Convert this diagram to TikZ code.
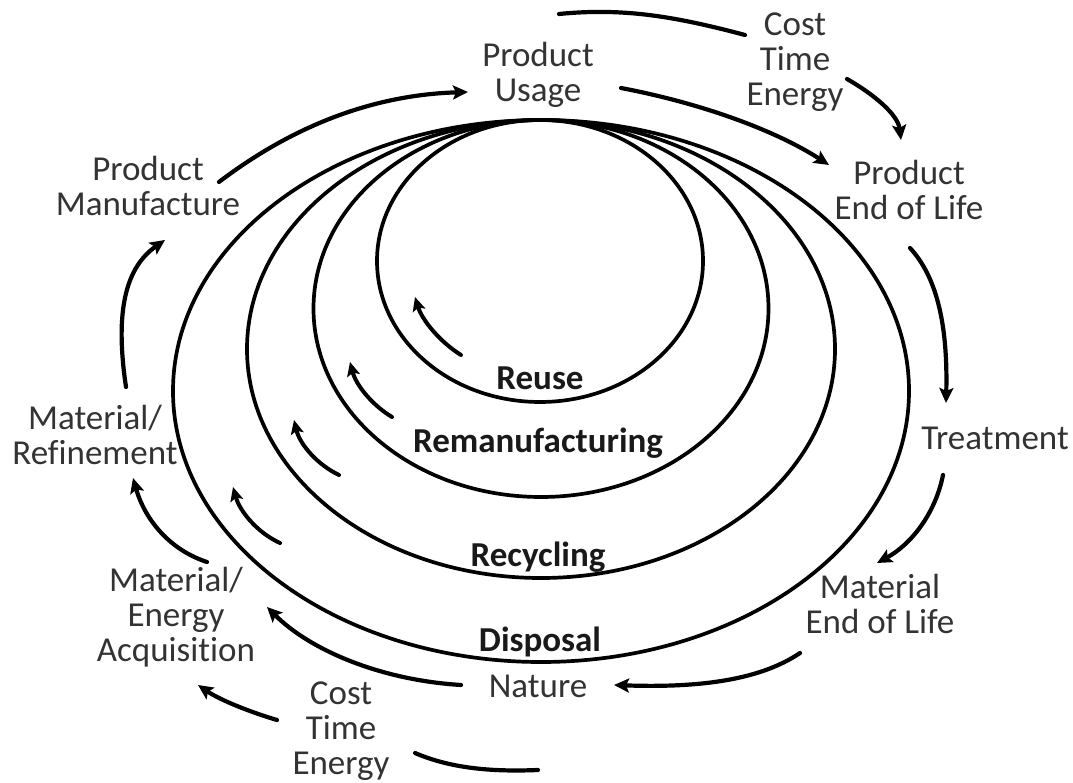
\documentclass[tikz,border=0pt]{standalone}
\usepackage{fontspec}
\setmainfont[Ligatures=NoCommon]{Carlito}
\usetikzlibrary{arrows.meta}
\begin{document}
\begin{tikzpicture}[x=1pt,y=-1pt,
  lbl/.style={align=center,font=\fontsize{35}{35}\selectfont,text=black!80,inner sep=0pt},
  blbl/.style={align=center,font=\fontsize{35}{35}\selectfont\bfseries,text=black!90,inner sep=0pt},
  ring/.style={line width=3.7pt,black},
  flow/.style={line width=4.2pt,black,line cap=round,-{Stealth[length=15pt,width=14pt,inset=3pt]}},
  plain/.style={line width=4.2pt,black,line cap=round},
  back/.style={line width=4pt,black,line cap=round,-{Stealth[length=14pt,width=13pt,inset=3pt]}}]
\useasboundingbox (0,0) rectangle (1073,783);
% rings
\draw[ring] (541,391) ellipse [x radius=368pt, y radius=271pt];
\draw[ring] (541,349) ellipse [x radius=294pt, y radius=229pt];
\draw[ring] (541,308.5) ellipse [x radius=227.5pt, y radius=188.5pt];
\draw[ring] (540,261) ellipse [x radius=163pt, y radius=141pt];
% labels
\node[lbl] (pu) at (538,74.5) {Product\\Usage};
\node[lbl] (cte1) at (795,62) {Cost\\Time\\Energy};
\node[lbl] (peol) at (909,189.5) {Product\\End of Life};
\node[lbl] (tr) at (995,438) {Treatment};
\node[lbl] (meol) at (880,603.5) {Material\\End of Life};
\node[lbl] (na) at (538,686) {Nature};
\node[lbl] (cte2) at (341,731) {Cost\\Time\\Energy};
\node[lbl] (mea) at (176,617) {Material/\\Energy\\Acquisition};
\node[lbl] (mr) at (95,434.5) {Material/\\Refinement};
\node[lbl] (pm) at (148,185.5) {Product\\Manufacture};
\node[blbl] (reuse) at (540,378) {Reuse};
\node[blbl] (reman) at (538,443) {Remanufacturing};
\node[blbl] (recyc) at (538,557) {Recycling};
\node[blbl] (disp) at (540,642) {Disposal};
% connector ends
\coordinate (a1s) at (219,182);  \coordinate (a1e) at (468,92);
\coordinate (a2s) at (621,88);   \coordinate (a2e) at (829,165);
\coordinate (t1s) at (559,14);   \coordinate (t1e) at (745,35);
\coordinate (a3s) at (847,79);   \coordinate (a3e) at (901,140);
\coordinate (a5s) at (910,248);  \coordinate (a5e) at (946,403);
\coordinate (a6s) at (943,475);  \coordinate (a6e) at (877,563);
\coordinate (a7s) at (800,653);  \coordinate (a7e) at (614,685);
\coordinate (t2s) at (415,753);  \coordinate (t2e) at (538,770);
\coordinate (a9s) at (461,685);  \coordinate (a9e) at (267,607);
\coordinate (a10s) at (277,720); \coordinate (a10e) at (198,685);
\coordinate (a11s) at (207,562); \coordinate (a11e) at (133,478);
\coordinate (a12s) at (126,387); \coordinate (a12e) at (165,240);
\coordinate (i1s) at (461,355);  \coordinate (i1e) at (415,297);
\coordinate (i2s) at (392,417);  \coordinate (i2e) at (350,362);
\coordinate (i3s) at (339,475);  \coordinate (i3e) at (294,420);
\coordinate (i4s) at (280,543);  \coordinate (i4e) at (233,487);
% outer flow
\draw[flow] (a1s) .. controls (290,128) and (370,95) .. (a1e);
\draw[flow] (a2s) .. controls (700,103) and (775,130) .. (a2e);
\draw[plain] (t1s) .. controls (620,8) and (670,15) .. (t1e);
\draw[flow] (a3s) .. controls (875,95) and (898,115) .. (a3e);
\draw[flow] (a5s) .. controls (935,275) and (948,320) .. (a5e);
\draw[flow] (a6s) .. controls (935,515) and (910,545) .. (a6e);
\draw[flow] (a7s) .. controls (760,680) and (700,688) .. (a7e);
\draw[plain] (t2s) .. controls (450,768) and (490,772) .. (t2e);
\draw[flow] (a9s) .. controls (380,680) and (310,650) .. (a9e);
\draw[flow] (a10s) .. controls (250,712) and (220,700) .. (a10e);
\draw[flow] (a11s) .. controls (170,550) and (145,520) .. (a11e);
\draw[flow] (a12s) .. controls (116,320) and (122,270) .. (a12e);
% inner loops
\draw[back] (i1s) .. controls (440,342) and (422,320) .. (i1e);
\draw[back] (i2s) .. controls (372,405) and (356,385) .. (i2e);
\draw[back] (i3s) .. controls (318,465) and (300,445) .. (i3e);
\draw[back] (i4s) .. controls (258,533) and (240,512) .. (i4e);
\end{tikzpicture}
\end{document}
